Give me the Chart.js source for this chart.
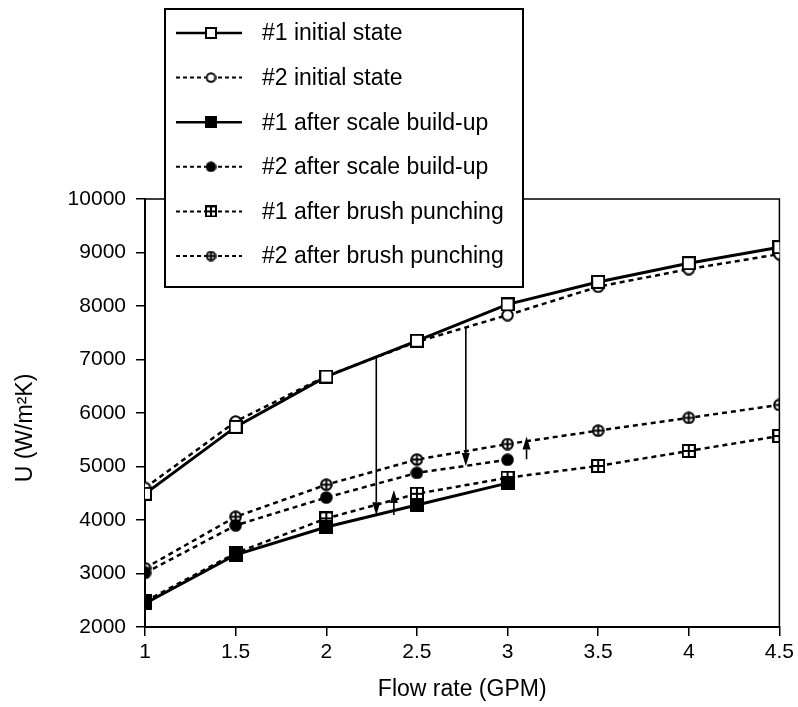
<!DOCTYPE html>
<html>
<head>
<meta charset="utf-8">
<script src="https://cdn.jsdelivr.net/npm/chart.js@4/dist/chart.umd.min.js"></script>
<style>
  body { margin: 0; background: #fff; }
</style>
</head>
<body>
<canvas id="grafico" width="798" height="707"></canvas>
<script>
// flow rate (GPM) and overall coefficient U (W/m2K) for both units
const flowRate = [1, 1.5, 2, 2.5, 3, 3.5, 4, 4.5];
const u1Initial = [4490, 5740, 6680, 7350, 8030, 8450, 8800, 9100];
const u2Initial = [4600, 5840, 6690, 7330, 7830, 8360, 8690, 8970];
const u1Scale = [2440, 3350, 3870, 4280, 4690];
const u2Scale = [3010, 3900, 4420, 4880, 5125];
const u1Brush = [2480, 3380, 4030, 4490, 4790, 5010, 5290, 5570];
const u2Brush = [3100, 4060, 4660, 5130, 5420, 5670, 5910, 6150];

const seriesNames = [
    '#1 initial state',
    '#2 initial state',
    '#1 after scale build-up',
    '#2 after scale build-up',
    '#1 after brush punching',
    '#2 after brush punching'
];

const yTicks = [2000, 3000, 4000, 5000, 6000, 7000, 8000, 9000, 10000];
const xTicks = [1, 1.5, 2, 2.5, 3, 3.5, 4, 4.5];
const yTitle = 'U (W/m²K)';

// arrows: x, start value, end value (head at the end)
const arrows = [
    [2.276, 7050, 4090],
    [2.77, 7600, 5010],
    [2.373, 4095, 4560],
    [3.105, 5135, 5560]
];

const FONT = "'Liberation Sans', Arial, Helvetica, sans-serif";
Chart.defaults.font.family = FONT;
Chart.defaults.color = '#000';

function marker(kind, size) {
    const c = document.createElement('canvas');
    c.width = size;
    c.height = size;
    const g = c.getContext('2d');
    const m = size / 2;
    g.lineWidth = 2;
    g.strokeStyle = '#000';
    g.fillStyle = kind.indexOf('filled') >= 0 ? '#000' : '#fff';
    g.beginPath();
    if (kind.indexOf('square') >= 0) {
        g.rect(1, 1, size - 2, size - 2);
    } else {
        g.arc(m, m, m - 1.2, 0, Math.PI * 2);
    }
    g.fill();
    g.stroke();
    if (kind.indexOf('cross') >= 0) {
        g.beginPath();
        g.moveTo(m, 1);
        g.lineTo(m, size - 1);
        g.moveTo(1, m);
        g.lineTo(size - 1, m);
        g.stroke();
    }
    return c;
}

const kinds = ['square', 'circle', 'filled square', 'filled circle', 'cross square', 'cross circle'];
const sizes = [14, 13, 14, 13, 14, 13];
const pointImgs = kinds.map((k, i) => marker(k, sizes[i]));
const legendImgs = kinds.map((k, i) => marker(k, sizes[i] - 2));
const dashed = [false, true, false, true, true, true];

function pts(ys) {
    return ys.map((y, i) => ({ x: flowRate[i], y: y }));
}
const seriesValues = [u1Initial, u2Initial, u1Scale, u2Scale, u1Brush, u2Brush];

const datasets = seriesValues.map((vals, i) => ({
    label: seriesNames[i],
    data: pts(vals),
    borderColor: '#000',
    backgroundColor: '#000',
    borderWidth: dashed[i] ? 2.5 : 3,
    borderDash: dashed[i] ? [5, 4] : [],
    pointStyle: pointImgs[i],
    pointRadius: 6,
    tension: 0
}));

// frame on top and right side, plus the rotated y title
const framePlugin = {
    id: 'frame',
    beforeDatasetsDraw(chart) {
        const a = chart.chartArea;
        const ctx = chart.ctx;
        ctx.save();
        ctx.strokeStyle = '#000';
        ctx.lineWidth = 1.5;
        ctx.beginPath();
        ctx.moveTo(a.left, a.top);
        ctx.lineTo(a.right, a.top);
        ctx.lineTo(a.right, a.bottom);
        ctx.stroke();
        ctx.translate(26, 428);
        ctx.rotate(-Math.PI / 2);
        ctx.font = '23px ' + FONT;
        ctx.fillStyle = '#000';
        ctx.textAlign = 'center';
        ctx.textBaseline = 'middle';
        ctx.fillText(yTitle, 0, 0);
        ctx.restore();
    }
};

const arrowPlugin = {
    id: 'arrows',
    afterDatasetsDraw(chart) {
        const ctx = chart.ctx;
        const xs = chart.scales.x, ys = chart.scales.y;
        ctx.save();
        ctx.strokeStyle = '#000';
        ctx.fillStyle = '#000';
        ctx.lineWidth = 1.6;
        arrows.forEach(([x, from, to]) => {
            const px = xs.getPixelForValue(x);
            const y0 = ys.getPixelForValue(from);
            const y1 = ys.getPixelForValue(to);
            const dir = y1 > y0 ? 1 : -1;
            const head = 13;
            ctx.beginPath();
            ctx.moveTo(px, y0);
            ctx.lineTo(px, y1 - dir * head);
            ctx.stroke();
            ctx.beginPath();
            ctx.moveTo(px, y1);
            ctx.lineTo(px - 4, y1 - dir * head);
            ctx.lineTo(px + 4, y1 - dir * head);
            ctx.closePath();
            ctx.fill();
        });
        ctx.restore();
    }
};

const legendPlugin = {
    id: 'boxLegend',
    afterDraw(chart) {
        const ctx = chart.ctx;
        const bx = 165, by = 9, bw = 358, bh = 278;
        ctx.save();
        ctx.fillStyle = '#fff';
        ctx.fillRect(bx, by, bw, bh);
        ctx.strokeStyle = '#000';
        ctx.lineWidth = 2;
        ctx.strokeRect(bx, by, bw, bh);
        ctx.font = '23px ' + FONT;
        ctx.textBaseline = 'middle';
        chart.data.datasets.forEach((ds, i) => {
            const cy = 33 + i * 44.6;
            ctx.strokeStyle = '#000';
            ctx.lineWidth = dashed[i] ? 2 : 2.5;
            ctx.setLineDash(dashed[i] ? [4, 3] : []);
            ctx.beginPath();
            ctx.moveTo(176, cy);
            ctx.lineTo(242, cy);
            ctx.stroke();
            ctx.setLineDash([]);
            const img = legendImgs[i];
            ctx.drawImage(img, 211 - img.width / 2, cy - img.height / 2);
            ctx.fillStyle = '#000';
            ctx.fillText(ds.label, 262, cy + 1);
        });
        ctx.restore();
    }
};

new Chart(document.getElementById('grafico'), {
    type: 'line',
    data: { datasets: datasets },
    plugins: [framePlugin, arrowPlugin, legendPlugin],
    options: {
        responsive: false,
        animation: false,
        layout: { padding: { top: 199, right: 18, left: 0, bottom: 0 } },
        plugins: {
            legend: { display: false },
            tooltip: { enabled: false }
        },
        scales: {
            x: {
                type: 'linear',
                min: 1,
                max: 4.5,
                afterFit(scale) { scale.height = 80; },
                afterBuildTicks(scale) { scale.ticks = xTicks.map(v => ({ value: v })); },
                border: { color: '#000', width: 2 },
                grid: { drawOnChartArea: false, color: '#000', lineWidth: 1.5, tickLength: 9 },
                ticks: { font: { size: 21 }, padding: 4, maxRotation: 0, callback: v => String(v) },
                title: { display: true, text: 'Flow rate (GPM)', font: { size: 23 }, padding: { top: 4, bottom: 4 } }
            },
            y: {
                min: 2000,
                max: 10000,
                afterFit(scale) { scale.width = 145; },
                afterBuildTicks(scale) { scale.ticks = yTicks.map(v => ({ value: v })); },
                border: { color: '#000', width: 2 },
                grid: { drawOnChartArea: false, color: '#000', lineWidth: 1.5, tickLength: 9 },
                ticks: { font: { size: 21 }, padding: 10, callback: v => String(v) }
            }
        }
    }
});
</script>
</body>
</html>
